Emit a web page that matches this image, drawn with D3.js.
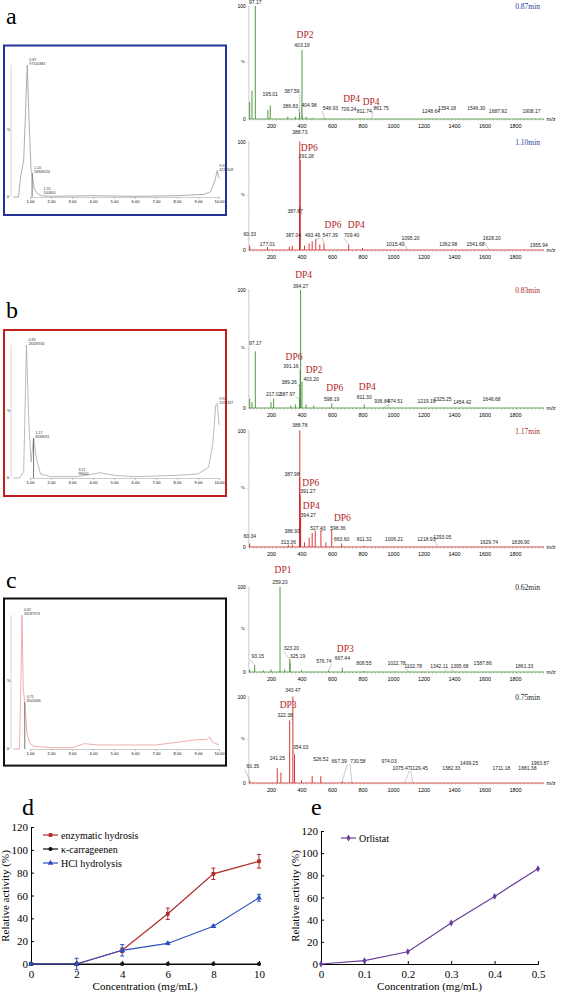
<!DOCTYPE html>
<html><head><meta charset="utf-8">
<script src="https://cdnjs.cloudflare.com/ajax/libs/d3/7.8.5/d3.min.js"></script>
<style>body{margin:0;background:#fff}svg{display:block}</style>
</head><body><svg width="562" height="996"></svg>
<script>
// chromatograms: [time, % intensity]
var chromA = [[0.2,0],[0.45,0],[0.55,15],[0.7,28],[0.8,70],[0.87,100],[0.95,60],[1.05,20],[1.1,18],[1.2,6],[1.4,2],[1.55,1],[2,0.5],[4,1],[6,0.5],[8,1],[9.3,2],[9.6,4],[9.8,12],[9.92,20],[10,14]];
var chromB = [[0.2,0],[0.5,0],[0.7,5],[0.83,100],[0.95,40],[1.05,12],[1.17,30],[1.3,15],[1.5,3],[2,1],[3.21,1],[4,3],[4.3,4],[5,2],[6,1],[8,2],[9,3],[9.5,8],[9.7,25],[9.85,55],[9.92,56],[10,40]];
var chromC = [[0.2,0],[0.5,0],[0.58,60],[0.62,100],[0.68,45],[0.75,35],[0.85,12],[1,4],[1.2,2],[2,1],[3,1],[3.6,4],[4.2,3],[5,3],[6,3],[7,3],[8,5],[9,7],[9.4,7],[9.55,9],[9.7,5],[10,3]];
var chromLabelsA = [["0.87","97100384",0.87,100],["1.10","18349524",1.10,18],["1.55","100854",1.55,2],["9.92","4233508",9.92,20]];
var chromLabelsB = [["0.83","28439180",0.83,100],["1.17","8048031",1.17,30],["3.21","98000",3.21,2],["9.92","1591437",9.92,56]];
var chromLabelsC = [["0.62","33187974",0.62,100],["0.75","8542666",0.75,35]];
var chromTicks = [1,2,3,4,5,6,7,8,9,10];

// spectra peaks: [m/z, %]; annotations: [m/z, %, label, label height %, label shift in m/z]
var spec1Peaks = [[60,15],[75,25],[97.17,100],[180,8],[195.01,12],[310,2],[360,2],[386.83,5],[387.59,6],[403.19,61],[404.98,3],[430,2],[470,1],[548.93,1]];
var spec1Notes = [[97.17,100,"97.17",102,0],[195.01,12,"195.01",20,0],[387.59,6,"387.59",23,-50],[386.83,5,"386.83",10,-60],[403.19,61,"403.19",64,0],[404.98,3,"404.98",11,45],[548.93,1,"548.93",8,40],[709.24,1,"709.24",7,0],[811.74,1,"811.74",5,0],[861.75,1,"861.75",8,60],[1248.64,0.5,"1248.64",5,0],[1354.18,0.5,"1354.18",8,0],[1546.30,0.5,"1546.30",8,0],[1687.92,0.5,"1687.92",5,0],[1908.17,0.5,"1908.17",5,0]];
var spec1DP = [["DP2",403.19,72,0],["DP4",709.24,15,0],["DP4",811.74,12,25]];

var spec2Peaks = [[60.33,4],[177.01,3],[320,3],[340,4],[387.04,5],[387.87,40],[388.73,100],[391.28,83],[420,4],[450,6],[470,8],[493.46,10],[520,5],[547.39,6],[709.40,5],[800,2]];
var spec2Notes = [[60.33,4,"60.33",13,0],[177.01,3,"177.01",4,0],[387.04,5,"387.04",12,-40],[387.87,40,"387.87",34,-30],[388.73,100,"388.73",107,0],[391.28,83,"391.28",85,40],[493.46,10,"493.46",12,-20],[547.39,6,"547.39",12,40],[709.40,5,"709.40",12,20],[1015.40,0.5,"1015.40",4,0],[1095.20,0.5,"1095.20",9,20],[1362.98,0.5,"1362.98",4,0],[1541.68,0.5,"1541.68",4,0],[1628.20,0.5,"1628.20",9,20],[1955.94,0.5,"1955.94",3,0]];
var spec2DP = [["DP6",391.28,91,40],["DP6",547.39,20,40],["DP4",709.40,20,30]];

var spec3Peaks = [[60,8],[75,5],[97.17,48],[200,5],[217.02,8],[330,2],[360,3],[387.97,8],[389.26,20],[391.16,32],[394.27,100],[403.20,22],[430,3],[480,2],[598.19,4],[811.30,3]];
var spec3Notes = [[97.17,48,"97.17",53,0],[217.02,8,"217.02",10,0],[387.97,8,"387.97",10,-80],[389.26,20,"389.26",20,-70],[391.16,32,"391.16",34,-60],[394.27,100,"394.27",102,0],[403.20,22,"403.20",23,60],[598.19,4,"598.19",6,0],[811.30,3,"811.30",8,0],[936.84,0.5,"936.84",4,-10],[974.51,0.5,"974.51",4,40],[1219.19,0.5,"1219.19",4,0],[1325.25,0.5,"1325.25",6,0],[1454.42,0.5,"1454.42",3,0],[1646.68,0.5,"1646.68",6,0]];
var spec3DP = [["DP4",394.27,110,0],["DP6",391.16,41,-60],["DP2",403.20,30,60],["DP6",598.19,14,0],["DP4",811.30,15,0]];

var spec4Peaks = [[60.34,3],[313.36,2],[340,2],[387.98,60],[388.78,100],[388.93,10],[391.27,45],[394.27,25],[420,4],[450,8],[470,12],[490,14],[527.43,15],[560,4],[598.36,15],[663.60,3],[811.32,1]];
var spec4Notes = [[60.34,3,"60.34",8,0],[313.36,2,"313.36",3,0],[387.98,60,"387.98",61,-50],[388.78,100,"388.78",103,0],[388.93,10,"388.93",12,-50],[391.27,45,"391.27",46,50],[394.27,25,"394.27",26,50],[527.43,15,"527.43",15,-20],[598.36,15,"598.36",15,40],[663.60,3,"663.60",5,0],[811.32,1,"811.32",5,0],[1006.21,0.5,"1006.21",5,0],[1218.93,0.5,"1218.93",5,0],[1293.05,0.5,"1293.05",7,30],[1629.74,0.5,"1629.74",3,0],[1836.90,0.5,"1836.90",3,0]];
var spec4DP = [["DP6",391.27,52,50],["DP4",394.27,33,50],["DP6",598.36,22,50]];

var spec5Peaks = [[60,3],[93.15,8],[150,2],[200,3],[259.20,100],[290,3],[323.20,15],[325.19,10],[400,2],[576.74,2],[667.44,5],[808.55,1]];
var spec5Notes = [[93.15,8,"93.15",16,20],[259.20,100,"259.20",104,0],[323.20,15,"323.20",26,10],[325.19,10,"325.19",16,50],[576.74,2,"576.74",11,-30],[667.44,5,"667.44",14,0],[808.55,1,"808.55",8,0],[1022.78,0.5,"1022.78",8,0],[1102.78,0.5,"1102.78",5,30],[1342.11,0.5,"1342.11",5,-40],[1395.68,0.5,"1395.68",5,40],[1587.86,0.5,"1587.86",8,0],[1861.33,0.5,"1861.33",5,0]];
var spec5DP = [["DP1",259.20,116,0],["DP3",667.44,24,0]];

var spec6Peaks = [[60.35,3],[241.25,17],[265,12],[322.38,72],[343.47,100],[354.03,33],[400,3],[470,8],[526.52,8],[667.39,2],[730.58,1]];
var spec6Notes = [[60.35,3,"60.35",17,20],[241.25,17,"241.25",27,0],[322.38,72,"322.38",76,-30],[343.47,100,"343.47",105,0],[354.03,33,"354.03",39,40],[526.52,8,"526.52",25,0],[667.39,2,"667.39",23,-20],[730.58,1,"730.58",23,40],[974.03,0.5,"974.03",23,0],[1075.47,0.5,"1075.47",15,-20],[1129.45,0.5,"1129.45",15,40],[1382.33,0.5,"1382.33",15,0],[1499.25,0.5,"1499.25",21,0],[1711.18,0.5,"1711.18",15,0],[1881.38,0.5,"1881.38",15,0],[1963.87,0.5,"1963.87",21,0]];
var spec6DP = [["DP3",322.38,87,-30]];

var mzTicks = [200,400,600,800,1000,1200,1400,1600,1800];

// activity charts
var concD = [0,2,4,6,8,10];
var enzymatic = [0,0,12,44,79,90], enzymaticErr = [0,0,2,5,5,6];
var kappa = [0,0,0,0,0,0], kappaErr = [0,0,0,0,0,0];
var hcl = [0,0,12,18,33,58], hclErr = [0,5,5,1,1,3];
var concE = [0,0.1,0.2,0.3,0.4,0.5];
var orlistat = [0,3,11,37,61,86];
var activityTicks = [0,20,40,60,80,100,120];

var svg = d3.select("svg");
var serif = "Liberation Serif, Times New Roman, serif";
var sans = "Liberation Sans, Arial, sans-serif";

function letter(t, x, y) {
  svg.append("text").attr("x", x).attr("y", y).text(t)
    .style("font-family", serif).style("font-size", "24px");
}

function chromatogram(data, notes, top, bottom, base, peak, boxColor, lineColor) {
  svg.append("rect").attr("x", 4).attr("y", top).attr("width", 222).attr("height", bottom - top)
    .attr("fill", "none").attr("stroke", boxColor).attr("stroke-width", 2);
  var x = d3.scaleLinear().domain([1, 10]).range([30, 219]);
  var y = d3.scaleLinear().domain([0, 100]).range([base, peak]);
  var g = svg.append("g");
  g.append("g").attr("transform", "translate(0," + base + ")")
    .call(d3.axisBottom(x).tickValues(chromTicks).tickSize(2).tickPadding(1).tickFormat(d3.format(".2f")))
    .call(function(a){ a.selectAll("text").style("font-size","4px").style("font-family",sans); a.selectAll("path,line").attr("stroke","#999").attr("stroke-width",0.5); });
  g.append("line").attr("x1", 11).attr("x2", 11).attr("y1", base).attr("y2", y(100))
    .attr("stroke", "#bbb").attr("stroke-width", 0.6);
  g.append("text").attr("x", 7).attr("y", base + 1).text("0").style("font-size", "4px");
  g.append("text").attr("x", 7).attr("y", y(50)).text("%").style("font-size", "4px");
  g.append("path").datum(data)
    .attr("d", d3.line().x(function(d){return x(d[0]);}).y(function(d){return y(d[1]);}))
    .attr("fill", "none").attr("stroke", lineColor).attr("stroke-width", 0.8);
  notes.forEach(function(n, i) {
    if (i === 1) g.append("line").attr("x1", x(n[2])).attr("x2", x(n[2])).attr("y1", base).attr("y2", y(n[3]))
      .attr("stroke", "#555").attr("stroke-width", 0.8);
    var t = g.append("text").attr("x", x(n[2]) + 2).attr("y", y(n[3]) - 4)
      .style("font-size", "3.6px").style("font-family", sans).attr("fill", "#333");
    t.append("tspan").text(n[0]);
    t.append("tspan").attr("x", x(n[2]) + 2).attr("dy", 4).text(n[1]);
  });
}

function spectrum(peaks, notes, dps, top, bottom, color, time, timeColor) {
  var x = d3.scaleLinear().domain([0, 2000]).range([240.5, 545.5]);
  var y = d3.scaleLinear().domain([0, 100]).range([bottom, top]);
  var g = svg.append("g");
  g.append("g").attr("transform", "translate(0," + bottom + ")")
    .call(d3.axisBottom(x).tickValues(mzTicks).tickSize(0).tickPadding(5).tickFormat(d3.format("d")))
    .call(function(a){ a.select(".domain").remove(); a.selectAll("text").style("font-size","5.5px").style("font-family",sans); });
  g.append("line").attr("x1", x(55)).attr("x2", x(1990)).attr("y1", bottom).attr("y2", bottom).attr("stroke", color).attr("stroke-width", 0.8);
  g.selectAll(".mt").data(d3.range(60, 1990, 25)).enter().append("line")
    .attr("x1", function(d){return x(d);}).attr("x2", function(d){return x(d);})
    .attr("y1", bottom).attr("y2", function(d){return d % 200 === 0 ? bottom + 2.5 : bottom + 1.5;})
    .attr("stroke", "#666").attr("stroke-width", 0.4);
  g.append("line").attr("x1", x(55)).attr("x2", x(55)).attr("y1", bottom).attr("y2", top).attr("stroke", "#999").attr("stroke-width", 0.5);
  g.selectAll(".yt").data(d3.range(0, 101, 10)).enter().append("line")
    .attr("x1", x(55) - 1.5).attr("x2", x(55)).attr("y1", function(d){return y(d);}).attr("y2", function(d){return y(d);})
    .attr("stroke", "#999").attr("stroke-width", 0.4);
  g.append("text").attr("x", x(55) - 3).attr("y", top + 2).attr("text-anchor", "end").text("100").style("font-size", "5px").style("font-family", sans);
  g.append("text").attr("x", x(55) - 3).attr("y", bottom + 2).attr("text-anchor", "end").text("0").style("font-size", "5px").style("font-family", sans);
  g.append("text").attr("x", x(55) - 4).attr("y", y(50)).attr("text-anchor", "end").text("%").style("font-size", "5px");
  g.append("text").attr("x", 551).attr("y", bottom + 2).attr("text-anchor", "middle").text("m/z").style("font-size", "5.5px").style("font-family", sans);
  g.selectAll(".pk").data(peaks).enter().append("line")
    .attr("x1", function(d){return x(d[0]);}).attr("x2", function(d){return x(d[0]);})
    .attr("y1", bottom).attr("y2", function(d){return y(d[1]);})
    .attr("stroke", color).attr("stroke-width", 0.9);
  // leader lines from shifted labels to their peaks
  g.selectAll(".ld").data(notes.filter(function(d){ return d[4] !== 0; })).enter().append("line")
    .attr("x1", function(d){return x(d[0] + d[4]) - (d[4] > 0 ? 8 : -8);}).attr("y1", function(d){return y(d[3]) + 1;})
    .attr("x2", function(d){return x(d[0]);}).attr("y2", function(d){return Math.max(y(d[1]), y(d[3]) + 1);})
    .attr("stroke", "#666").attr("stroke-width", 0.35);
  g.selectAll(".nt").data(notes).enter().append("text")
    .attr("x", function(d){return x(d[0] + d[4]);}).attr("y", function(d){return y(d[3]);})
    .attr("text-anchor", "middle").text(function(d){return d[2];})
    .style("font-size", "5px").style("font-family", sans).attr("fill", "#222");
  g.selectAll(".dp").data(dps).enter().append("text")
    .attr("x", function(d){return x(d[1] + d[3]) + 3;}).attr("y", function(d){return y(d[2]);})
    .attr("text-anchor", "middle").text(function(d){return d[0];})
    .style("font-size", "9.5px").style("font-family", serif).attr("fill", "#b01e1e");
  g.append("text").attr("x", 540).attr("y", top + 3).attr("text-anchor", "end").text(time)
    .style("font-size", "7.5px").style("font-family", serif).attr("fill", timeColor);
}

letter("a", 6, 24);
chromatogram(chromA, chromLabelsA, 45.5, 215, 197, 65, "#23329a", "#999");
spectrum(spec1Peaks, spec1Notes, spec1DP, 6, 119, "#3f8f2f", "0.87min", "#2a3a9a");
spectrum(spec2Peaks, spec2Notes, spec2DP, 141.5, 250, "#d42323", "1.10min", "#2a3a9a");

letter("b", 6, 318);
chromatogram(chromB, chromLabelsB, 330, 496, 478, 345, "#c21f1f", "#aaa");
spectrum(spec3Peaks, spec3Notes, spec3DP, 290, 408, "#3f8f2f", "0.83min", "#b01e1e");
spectrum(spec4Peaks, spec4Notes, spec4DP, 430.5, 547, "#d42323", "1.17min", "#b01e1e");

letter("c", 6, 588);
chromatogram(chromC, chromLabelsC, 598.5, 765.6, 749, 615, "#111", "#e89a9a");
spectrum(spec5Peaks, spec5Notes, spec5DP, 587, 672, "#3f8f2f", "0.62min", "#222");
spectrum(spec6Peaks, spec6Notes, spec6DP, 696.5, 783, "#d42323", "0.75min", "#222");

function activity(xs, domainX, rangeX, topY, ticksX, fmt, series, legendX, legendY) {
  var x = d3.scaleLinear().domain(domainX).range(rangeX);
  var y = d3.scaleLinear().domain([0, 120]).range([964, topY]);
  var g = svg.append("g").style("font-family", serif);
  g.append("g").attr("transform", "translate(0,964)")
    .call(d3.axisBottom(x).tickValues(ticksX).tickSize(-3).tickPadding(6).tickFormat(fmt))
    .call(function(a){ a.selectAll("text").style("font-size","11px").style("font-family",serif); a.selectAll("path,line").attr("stroke","#000"); });
  g.append("g").attr("transform", "translate(" + rangeX[0] + ",0)")
    .call(d3.axisLeft(y).tickValues(activityTicks).tickSize(-3).tickPadding(3).tickSizeOuter(0))
    .call(function(a){ a.selectAll("text").style("font-size","11px").style("font-family",serif); a.selectAll("path,line").attr("stroke","#000"); });
  g.append("text").attr("x", (rangeX[0] + rangeX[1]) / 2).attr("y", 990).attr("text-anchor", "middle")
    .text("Concentration (mg/mL)").style("font-size", "11px");
  g.append("text").attr("transform", "translate(" + (rangeX[0] - 22) + ",896) rotate(-90)").attr("text-anchor", "middle")
    .text("Relative activity (%)").style("font-size", "11px");
  series.forEach(function(s, si) {
    var pts = xs.map(function(v, i){ return [v, s.values[i], s.err ? s.err[i] : 0]; });
    g.append("path").datum(pts)
      .attr("d", d3.line().x(function(d){return x(d[0]);}).y(function(d){return y(d[1]);}))
      .attr("fill", "none").attr("stroke", s.color).attr("stroke-width", 1.2);
    pts.forEach(function(p) {
      if (p[2] > 0) {
        g.append("line").attr("x1", x(p[0])).attr("x2", x(p[0])).attr("y1", y(p[1] - p[2])).attr("y2", y(p[1] + p[2])).attr("stroke", s.color);
        [p[1] - p[2], p[1] + p[2]].forEach(function(v){
          g.append("line").attr("x1", x(p[0]) - 2).attr("x2", x(p[0]) + 2).attr("y1", y(v)).attr("y2", y(v)).attr("stroke", s.color);
        });
      }
      marker(g, s.shape, x(p[0]), y(p[1]), s.color);
    });
    var ly = legendY + si * 14;
    g.append("line").attr("x1", legendX).attr("x2", legendX + 15).attr("y1", ly).attr("y2", ly).attr("stroke", s.color).attr("stroke-width", 1.2);
    marker(g, s.shape, legendX + 7.5, ly, s.color);
    g.append("text").attr("x", legendX + 18).attr("y", ly + 3.5).text(s.name).style("font-size", "10px");
  });
}
function marker(g, shape, cx, cy, color) {
  var sym = shape === "square" ? d3.symbolSquare : shape === "circle" ? d3.symbolCircle : shape === "triangle" ? d3.symbolTriangle : d3.symbolDiamond;
  g.append("path").attr("d", d3.symbol().type(sym).size(14)).attr("transform", "translate(" + cx + "," + cy + ")").attr("fill", color);
}

letter("d", 22, 815);
activity(concD, [0, 10], [31, 259], 827, concD, d3.format("d"), [
  {name: "enzymatic hydrosis", values: enzymatic, err: enzymaticErr, color: "#b02a2a", shape: "square"},
  {name: "κ-carrageenen", values: kappa, err: kappaErr, color: "#111", shape: "circle"},
  {name: "HCl hydrolysis", values: hcl, err: hclErr, color: "#3050c0", shape: "triangle"}
], 43, 835);

letter("e", 311, 815);
activity(concE, [0, 0.5], [321, 538], 831, concE, function(d){ return d === 0 ? "0" : d3.format(".1f")(d); }, [
  {name: "Orlistat", values: orlistat, color: "#6a3d9a", shape: "diamond"}
], 341, 838);
</script></body></html>
